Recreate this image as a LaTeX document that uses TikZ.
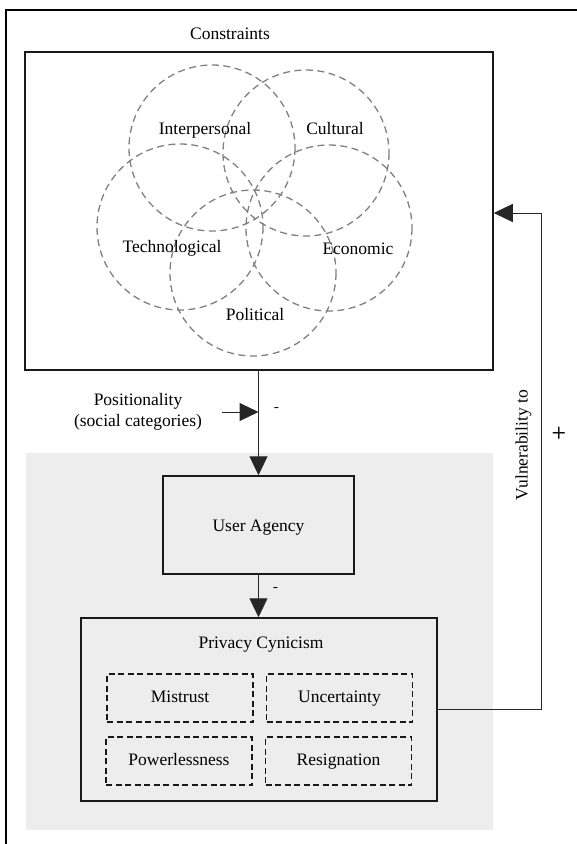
\documentclass[tikz,border=0pt]{standalone}
\usepackage{fontspec}
\setmainfont{Liberation Serif}
\usetikzlibrary{arrows.meta}
\begin{document}
\begin{tikzpicture}[x=1pt,y=-1pt,
  every node/.style={font=\fontsize{17.5}{21}\selectfont, inner sep=0pt, text=black},
  lbl/.style={text height=12.5pt, text depth=3.5pt},
  venn/.style={draw=black!50, dash pattern=on 7pt off 4.5pt, line width=1.3pt},
  box/.style={draw=black!90, line width=1.5pt, minimum width=#1},
  sub/.style={lbl, draw=black!90, line width=1.4pt, dash pattern=on 6pt off 3.5pt, minimum width=146pt, minimum height=48pt},
  conn/.style={draw=black!85, line width=1pt},
  tip/.style={-{Triangle[length=19pt,width=18pt]}}
]
\useasboundingbox (0,0) rectangle (577,844);
% outer frame (cut off at right and bottom)
\draw[line width=1.8pt] (6,844) -- (6,10) -- (577,10);

% constraints
\node[lbl] (ctitle) at (230,35) {Constraints};
\node[box=468pt, minimum height=318pt] (cons) at (259,211) {};
\draw[venn] (212,148) circle (83);
\draw[venn] (306,153) circle (83);
\draw[venn] (180,227) circle (83);
\draw[venn] (329,228) circle (83);
\draw[venn] (253,273) circle (83);
\node[lbl] (inter) at (205,130) {Interpersonal};
\node[lbl] (cult) at (335,130) {Cultural};
\node[lbl] (tech) at (172,248) {Technological};
\node[lbl] (econ) at (358,250) {Economic};
\node[lbl] (pol) at (255,316) {Political};

% grey area
\fill[black!7] (26,453) rectangle (493,830);

% user agency
\node[box=191pt, minimum height=98pt] (ua) at (258.5,525) {};
\node[lbl] (uat) at (258.5,527) {User Agency};

% privacy cynicism
\node[box=356pt, minimum height=183pt] (pc) at (259,709.5) {};
\node[lbl] (pct) at (261,644) {Privacy Cynicism};
\node[sub] (mis) at (180,698) {Mistrust};
\node[sub] (unc) at (339.5,698) {Uncertainty};
\node[sub] (pow) at (179,761) {Powerlessness};
\node[sub] (res) at (338.5,761) {Resignation};

% positionality
\node[align=center] (posi) at (138,412) {Positionality\\(social categories)};
\coordinate (pa) at (222,412);
\draw[conn, tip] (pa) -- (ua.north |- pa);
\node[font=\sffamily\bfseries\fontsize{15}{18}\selectfont] (m1) at (277,410) {-};
\draw[conn, tip] (ua.north |- cons.south) -- (ua.north);

% agency -> cynicism
\draw[conn, tip] (ua.south) -- (ua.south |- pc.north);
\node[font=\sffamily\bfseries\fontsize{15}{18}\selectfont] (m2) at (276,590) {-};

% feedback
\coordinate (fb1) at (541,709.5);
\coordinate (fb2) at (541,213);
\draw[conn, tip] (pc.east) -- (fb1) -- (fb2) -- (cons.east |- fb2);
\node[lbl, rotate=90] (vul) at (523,445) {Vulnerability to};
\node[font=\sffamily\bfseries\fontsize{17}{18}\selectfont] (plus) at (559,433) {+};
\end{tikzpicture}
\end{document}
